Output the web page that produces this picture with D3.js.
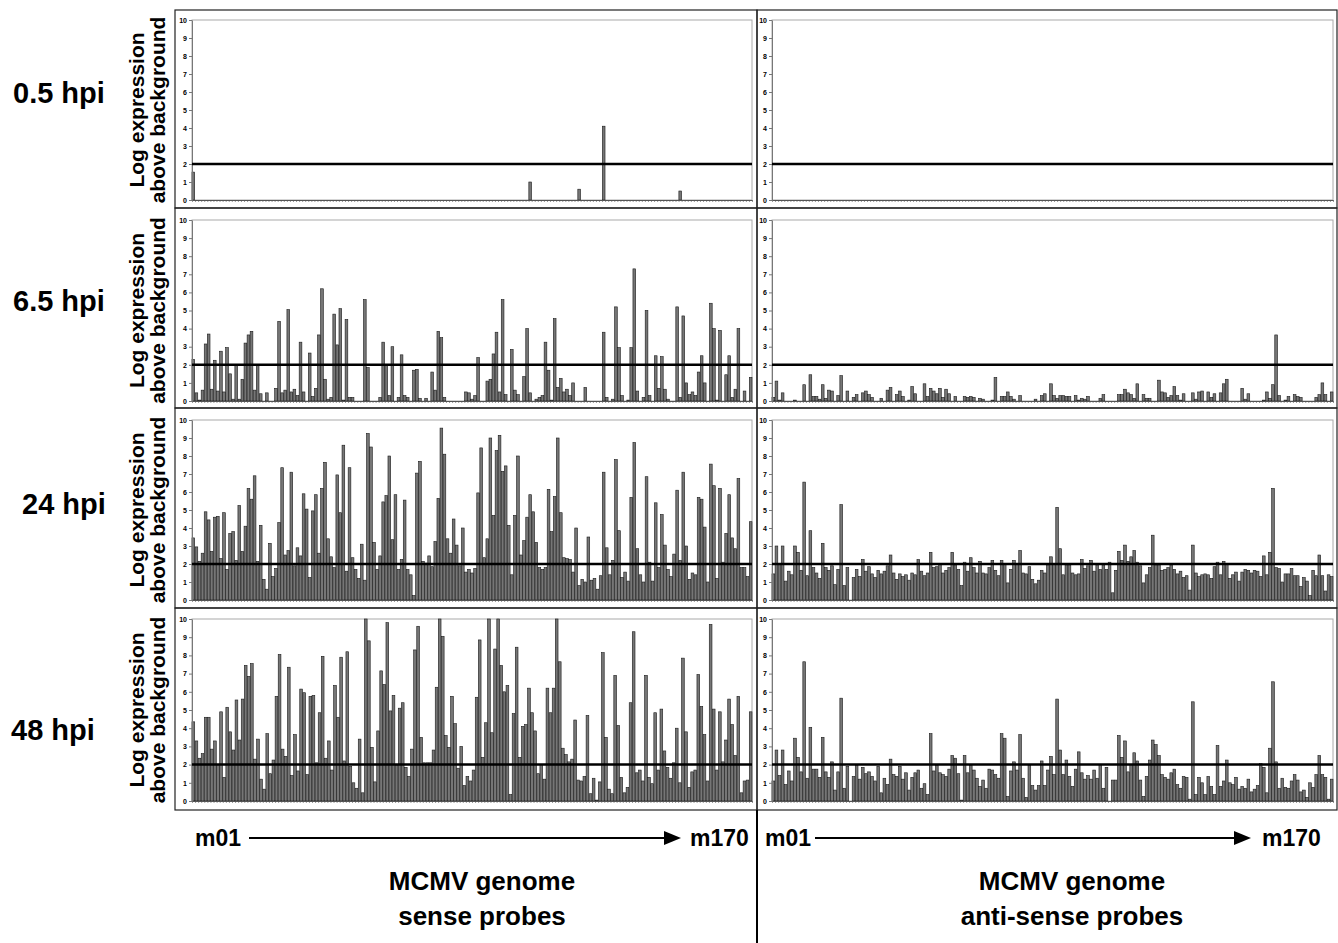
<!DOCTYPE html>
<html>
<head>
<meta charset="utf-8">
<script src="https://cdn.jsdelivr.net/npm/d3@7"></script>
<style>
  body { margin: 0; background: #fff; }
  svg { display: block; font-family: "Liberation Sans", Arial, sans-serif; }
</style>
</head>
<body>
<svg id="chart" width="1338" height="943"></svg>
<script>
// ---- data (log expression above background, one value per probe) ----
const rowLabels = ["0.5 hpi", "6.5 hpi", "24 hpi", "48 hpi"];
const yTicks = [0, 1, 2, 3, 4, 5, 6, 7, 8, 9, 10];
const threshold = 2;

// 0.5 hpi: only a few probes above zero, [probe index, value]
const sense05Peaks = [[0, 1.55], [110, 1.0], [126, 0.6], [134, 4.1], [159, 0.5]];
const anti05Peaks = [];

const sense65 = [
  2.3, 0.45, 0.05, 0.6, 3.15, 3.7, 0.65, 2.25, 0.55, 2.75,
  0.5, 2.95, 1.5, 0.1, 1.95, 0.1, 1.2, 3.2, 3.65, 3.85,
  0.6, 1.95, 0.4, 0, 0.45, 0, 0, 0.7, 4.4, 0.45,
  0.6, 5.05, 0.5, 0.65, 0.3, 3.25, 0.5, 0, 2.65, 0.25,
  0.7, 3.65, 6.2, 1.2, 0.1, 0.2, 4.8, 3.1, 5.1, 0.05,
  4.5, 0.2, 0.2, 0, 0, 0, 5.6, 1.85, 0, 0,
  0, 0.2, 3.25, 1.95, 0.3, 3.0, 0, 0.2, 2.55, 0.3,
  0.2, 0, 1.7, 1.75, 0.15, 0, 0.15, 0, 1.6, 0.6,
  3.85, 3.5, 0.2, 0, 0, 0, 0, 0, 0, 0.5, 0.45,
  0.1, 0.3, 2.4, 0, 0, 1.1, 1.2, 2.6, 3.8, 0.5,
  5.6, 0.35, 0, 2.85, 0.6, 0.35, 0, 1.35, 4.0, 0.45,
  0, 0.1, 0.2, 0.3, 3.25, 1.7, 0.05, 4.55, 0.75, 1.25,
  0.5, 0.65, 0.3, 1.0, 0, 0, 0, 0.75, 0, 0, 0,
  0, 0, 3.8, 0.2, 0, 0.1, 5.2, 2.95, 0.3, 0,
  0.05, 2.95, 7.3, 0.55, 0, 0.2, 5.0, 0.3, 0, 2.5,
  0.7, 2.45, 0.65, 0.1, 0, 0, 5.2, 0.2, 4.7, 1.0,
  0.35, 0.5, 0.3, 1.6, 2.5, 1.0, 0, 5.4, 4.0, 0.05,
  3.9, 0, 1.45, 2.5, 0.2, 0.65, 4.0, 0, 0.55, 0,
  1.3
];

const anti65 = [
  0.2, 1.1, 0.05, 0.45, 0, 0, 0, 0.05, 0, 0,
  0.9, 0, 1.45, 0.25, 0.25, 0.1, 0.9, 0.15, 0.6, 0.55,
  0, 0.3, 1.4, 0, 0.55, 0, 0.2, 0.35, 0, 0.45,
  0.55, 0.35, 0.2, 0, 0, 0.15, 0, 0.6, 0.75, 0, 0.35,
  0.55, 0.25, 0, 0.05, 0.8, 0.4, 0, 0, 0.95, 0.25,
  0.7, 0.55, 0.4, 0.7, 0.2, 0.65, 0.4, 0, 0.25, 0,
  0, 0.25, 0.2, 0.25, 0.2, 0, 0.15, 0.1, 0, 0,
  0.05, 1.3, 0, 0.25, 0.25, 0.5, 0.25, 0.1, 0, 0.3,
  0, 0, 0, 0, 0.1, 0, 0.3, 0.4, 0, 0.95, 0.3,
  0.15, 0.3, 0.3, 0.25, 0.25, 0, 0.3, 0.05, 0.15, 0.1,
  0.25, 0, 0, 0, 0.15, 0.35, 0, 0, 0, 0, 0.35, 0.35,
  0.65, 0.45, 0.35, 0.15, 0.95, 0, 0.35, 0.15, 0.15, 0, 0, 1.15,
  0.5, 0.45, 0.2, 0.3, 0.8, 0.3, 0.05, 0.4, 0, 0,
  0.45, 0.1, 0.5, 0.55, 0, 0.5, 0.2, 0.4, 0, 0.45,
  0.95, 1.2, 0, 0, 0, 0, 0.7, 0.1, 0.4, 0, 0,
  0, 0, 0.05, 0.5, 0.15, 0.9, 3.65, 0.3, 0, 0.05, 0.25,
  0, 0.35, 0.25, 0.2, 0, 0, 0, 0, 0.2, 0.35,
  1.0, 0.35, 0, 0.5
];

const sense24 = [
  3.45, 2.95, 2.15, 2.6, 4.9, 4.45, 2.7, 4.6, 4.65, 2.3,
  4.85, 1.7, 3.7, 3.8, 2.2, 5.25, 2.7, 4.1, 6.2, 5.6,
  6.9, 2.15, 4.15, 1.15, 0.6, 3.15, 1.3, 1.75, 4.3, 7.35,
  2.5, 2.75, 7.1, 1.9, 2.9, 2.45, 5.9, 5.05, 1.25, 4.95,
  5.85, 2.6, 6.2, 7.65, 3.4, 2.4, 1.8, 6.95, 4.85, 8.6,
  1.6, 7.35, 2.35, 1.7, 1.2, 3.1, 1.1, 9.25, 8.5, 3.2,
  1.7, 2.45, 5.45, 5.8, 8.0, 3.35, 5.85, 1.7, 2.25, 5.55,
  1.7, 1.4, 0.25, 7.05, 7.7, 2.15, 2.05, 2.45, 1.85, 3.25,
  5.65, 9.55, 8.1, 3.4, 2.6, 4.5, 3.05, 1.9, 4.0,
  1.55, 1.7, 1.5, 1.75, 5.95, 8.45, 2.35, 3.4, 9.0, 4.7,
  8.3, 9.15, 7.15, 7.45, 4.15, 1.4, 4.7, 8.0, 2.5, 3.3,
  4.6, 5.85, 4.9, 3.2, 1.8, 1.7, 1.8, 6.15, 3.8, 5.75,
  9.0, 4.85, 2.35, 2.3, 2.25, 1.55, 4.0, 0.8, 1.15, 1.0,
  3.5, 1.1, 1.2, 0.6, 1.35, 7.1, 2.9, 1.4, 2.2, 7.8,
  3.85, 1.25, 1.55, 1.05, 5.7, 8.75, 2.85, 1.4, 1.0, 6.85,
  2.1, 1.05, 5.4, 1.8, 4.75, 3.05, 1.7, 1.3, 2.55, 6.1,
  2.2, 7.1, 3.0, 1.15, 1.5, 1.4, 5.7, 5.6, 4.05, 1.0,
  7.55, 6.35, 1.2, 6.2, 2.1, 3.7, 5.85, 3.45, 2.85, 6.75,
  1.8, 1.8, 1.3, 4.35
];

const anti24 = [
  1.45, 3.0, 2.0, 3.0, 1.05, 1.6, 1.4, 3.0, 2.65, 1.65,
  6.55, 1.35, 3.85, 1.8, 1.5, 1.2, 3.15, 1.8, 1.65, 1.9,
  0.85, 1.7, 5.3, 0.8, 1.8, 0, 1.25, 1.7, 1.3, 2.25,
  1.6, 1.85, 1.45, 1.25, 1.65, 1.45, 1.6, 1.9, 2.5, 1.5, 1.15,
  1.45, 1.3, 1.4, 1.1, 1.5, 1.4, 2.25, 1.6, 1.35, 1.5, 2.65, 1.8,
  1.85, 2.0, 1.5, 1.65, 1.8, 2.65, 1.95, 1.7, 0.8, 2.1, 1.6,
  2.35, 1.8, 1.5, 2.15, 1.5, 1.45, 1.8, 2.2, 1.65, 1.35,
  2.2, 2.0, 0.95, 1.7, 2.2, 2.0, 2.75, 1.5, 1.45, 1.85,
  1.15, 0.9, 1.1, 1.65, 1.5, 1.95, 2.4,
  2.0, 5.15, 2.85, 1.4, 1.95, 1.95, 1.5, 1.4, 1.45, 2.25,
  1.75, 1.9, 2.2, 1.6, 1.95, 1.7, 1.95, 1.7, 2.1, 0.4, 1.65,
  2.7, 2.2, 3.05, 2.15, 2.4, 2.75, 2.1, 1.9, 0.95, 1.4, 1.8,
  3.6, 1.95, 1.95, 1.65, 1.7, 1.8, 1.95, 1.7, 1.45, 1.6, 1.25,
  1.35, 0.55, 3.05, 1.5, 1.3, 1.4, 1.45, 1.4, 1.2, 1.85,
  2.1, 1.4, 2.15, 2.0, 1.2, 1.4, 1.55, 1.05, 1.55, 1.7, 1.65,
  1.5, 1.65, 1.6, 1.3, 2.45, 1.4, 2.65, 6.2, 1.8, 1.75,
  1.0, 1.45, 1.45, 1.75, 1.35, 1.35, 0.75, 1.25, 1.05, 0.25,
  1.65, 1.35, 2.5, 1.35, 0.5, 1.4, 1.3
];

const sense48 = [
  4.35, 3.3, 2.35, 2.6, 4.6, 4.6, 2.85, 3.3, 2.0, 4.9,
  1.3, 5.15, 3.8, 2.8, 5.55, 3.35, 5.6, 7.45, 6.85, 7.55,
  2.3, 3.4, 1.2, 0.65, 3.7, 1.5, 2.25, 5.75, 8.05, 2.85,
  2.45, 7.35, 1.4, 3.65, 1.65, 6.15, 5.95, 1.45, 5.75, 5.8,
  2.1, 4.85, 7.95, 2.35, 3.3, 1.7, 6.35, 4.6, 7.9, 2.2,
  8.2, 1.9, 1.0, 0.7, 3.4, 0.45, 10, 8.8, 2.95, 1.05,
  3.85, 7.15, 6.4, 9.8, 4.95, 5.8, 1.95, 5.1, 5.4, 1.85,
  1.35, 2.85, 8.3, 9.6, 3.5, 2.1, 2.1, 2.1, 2.8, 6.25,
  10, 9.05, 3.6, 2.95, 5.75, 4.25, 1.8, 3.0, 0.85, 1.35,
  1.1, 1.7, 5.7, 8.85, 2.4, 4.3, 10, 3.75, 8.35, 10,
  7.45, 6.0, 6.35, 0.35, 4.8, 8.45, 2.4, 4.1, 4.2, 6.2,
  4.85, 3.85, 1.5, 2.0, 1.2, 6.2, 4.85, 6.2, 10, 7.65,
  2.9, 2.55, 2.15, 2.3, 4.45, 1.15, 1.1, 1.35, 4.7, 0.4,
  1.25, 0.05, 1.05, 8.15, 3.5, 0.65, 0.4, 6.9, 4.15, 1.3,
  0.45, 0.75, 5.4, 9.3, 1.55, 1.7, 1.1, 6.9, 1.3, 0.95,
  4.85, 1.7, 5.05, 2.75, 1.85, 1.25, 2.1, 4.0, 1.0, 7.85,
  3.8, 0.75, 1.6, 1.7, 6.95, 5.2, 3.65, 1.1, 9.7, 5.05,
  1.7, 4.9, 2.15, 3.35, 5.6, 4.2, 2.5, 5.75, 0.45, 1.1,
  1.15, 4.9
];

const anti48 = [
  1.1, 2.8, 1.4, 2.8, 0.9, 1.65, 1.1, 3.45, 2.4, 1.6,
  7.65, 1.25, 4.05, 1.75, 1.75, 1.3, 3.5, 1.6, 1.3, 2.15,
  0.6, 1.6, 5.65, 0.7, 1.9, 0, 1.35, 1.95, 1.2, 1.85,
  1.5, 1.6, 1.35, 1.1, 1.9, 0.45, 1.25, 0.9, 2.3, 1.45, 1.35,
  1.9, 1.2, 1.55, 0.6, 1.3, 1.55, 1.7, 0.7, 0.95, 0.35, 3.7, 1.65,
  1.95, 1.55, 1.45, 1.35, 1.75, 2.5, 2.35, 1.5, 0.05, 2.5, 1.55,
  1.95, 1.7, 1.25, 0.8, 1.15, 0.7, 1.75, 1.7, 1.45, 1.25,
  3.7, 3.45, 0.25, 1.65, 2.15, 1.7, 3.65, 1.25, 0.2, 1.95,
  0.85, 0.6, 0.85, 2.2, 0.85, 1.7, 2.45,
  1.45, 5.6, 2.8, 1.45, 2.25, 1.35, 0.8, 1.75, 2.7, 1.55,
  1.2, 1.4, 1.2, 1.7, 1.25, 2.0, 0.7, 1.85, 0, 1.15, 1.15,
  3.6, 2.4, 3.3, 1.6, 2.0, 2.65, 2.2, 1.15, 0.25, 1.35, 2.25,
  3.35, 3.1, 2.5, 1.45, 1.3, 1.2, 1.55, 1.75, 0.9, 0.7, 1.35,
  1.3, 0.1, 5.45, 0.35, 1.3, 1.0, 0.35, 1.35, 0.8, 0.35,
  3.05, 0.8, 1.1, 2.25, 1.0, 0.9, 1.3, 0.65, 0.8, 0.7, 1.2,
  0.5, 0.65, 0.85, 2.05, 1.85, 0.45, 2.9, 6.55, 2.15, 0.7,
  1.25, 0.75, 0.7, 1.1, 1.45, 1.15, 0.5, 0.6, 0.2, 1.0,
  0.75, 1.45, 2.5, 1.45, 1.3, 0.1, 1.2
];

// 0.5 hpi series: zero everywhere except the listed probes
const probeCount = sense65.length;
const fromPeaks = (peaks) => {
  const s = new Array(probeCount).fill(0);
  peaks.forEach(([i, v]) => (s[i] = v));
  return s;
};

const senseSeries = [fromPeaks(sense05Peaks), sense65, sense24, sense48];
const antiSeries = [fromPeaks(anti05Peaks), anti65, anti24, anti48];

// ---- layout ----
const chart = d3.select("#chart");

const columns = [
  { left: 175, right: 757, x0: 192, x1: 752, series: senseSeries },
  { left: 757, right: 1337, x0: 772, x1: 1333, series: antiSeries },
];
const rows = [
  { top: 10, bottom: 208, y10: 20, y0: 200, labelX: 13, labelY: 103 },
  { top: 208, bottom: 408, y10: 220, y0: 401, labelX: 13, labelY: 311 },
  { top: 408, bottom: 608, y10: 420, y0: 600, labelX: 22, labelY: 514 },
  { top: 608, bottom: 810, y10: 619, y0: 801, labelX: 11, labelY: 740 },
];

rows.forEach((row, r) => {
  const yScale = d3.scaleLinear().domain([0, 10]).range([row.y0, row.y10]);

  // row label
  chart
    .append("text")
    .attr("x", row.labelX)
    .attr("y", row.labelY)
    .style("font-size", "29px")
    .style("font-weight", "bold")
    .text(rowLabels[r]);

  // y axis title (two lines)
  const midY = (row.y0 + row.y10) / 2;
  ["Log expression", "above background"].forEach((line, k) => {
    chart
      .append("text")
      .attr("transform", `translate(${144 + k * 21}, ${midY}) rotate(-90)`)
      .attr("text-anchor", "middle")
      .style("font-size", "21px")
      .style("font-weight", "bold")
      .text(line);
  });

  columns.forEach((col) => {
    const data = col.series[r];
    const xScale = d3
      .scaleBand()
      .domain(d3.range(data.length))
      .range([col.x0, col.x1])
      .paddingInner(0.12);
    const xEdge = d3.scaleLinear().domain([0, data.length]).range([col.x0, col.x1]);

    // outer panel box
    chart
      .append("rect")
      .attr("x", col.left)
      .attr("y", row.top)
      .attr("width", col.right - col.left)
      .attr("height", row.bottom - row.top)
      .attr("fill", "none")
      .attr("stroke", "#222")
      .attr("stroke-width", 1.2);

    // plot area frame
    chart
      .append("rect")
      .attr("x", col.x0)
      .attr("y", row.y10)
      .attr("width", col.x1 - col.x0)
      .attr("height", row.y0 - row.y10)
      .attr("fill", "none")
      .attr("stroke", "#aaa")
      .attr("stroke-width", 1);

    // bars
    chart
      .append("g")
      .selectAll("rect")
      .data(data.map((v, i) => ({ i, v })).filter((d) => d.v > 0))
      .enter()
      .append("rect")
      .attr("x", (d) => xScale(d.i))
      .attr("y", (d) => yScale(d.v))
      .attr("width", xScale.bandwidth())
      .attr("height", (d) => row.y0 - yScale(d.v))
      .attr("fill", "#767676")
      .attr("stroke", "#1a1a1a")
      .attr("stroke-width", 0.6);

    // category axis with small ticks between probes
    const xAxis = d3
      .axisBottom(xEdge)
      .tickValues(d3.range(data.length + 1))
      .tickSize(2)
      .tickSizeOuter(0)
      .tickFormat("");
    const gx = chart.append("g").attr("transform", `translate(0, ${row.y0})`).call(xAxis);
    gx.select(".domain").attr("stroke", "#555");
    gx.selectAll(".tick line").attr("stroke", "#555").attr("stroke-width", 0.6);

    // value axis
    const yAxis = d3.axisLeft(yScale).tickValues(yTicks).tickSize(3).tickSizeOuter(0);
    const gy = chart.append("g").attr("transform", `translate(${col.x0}, 0)`).call(yAxis);
    gy.select(".domain").attr("stroke", "#777");
    gy.selectAll(".tick line").attr("stroke", "#777");
    gy.selectAll(".tick text")
      .attr("x", -5)
      .attr("fill", "#000")
      .style("font-size", "7px")
      .style("font-weight", "bold");

    // threshold line
    chart
      .append("line")
      .attr("x1", col.x0)
      .attr("x2", col.x1)
      .attr("y1", yScale(threshold))
      .attr("y2", yScale(threshold))
      .attr("stroke", "#000")
      .attr("stroke-width", 2.5);
  });
});

// ---- genome direction arrows and captions ----
const genomeLabels = [
  { start: "m01", end: "m170", sx: 195, lineFrom: 249, lineTo: 666, tip: 681, ex: 690, cx: 482, sub: "sense probes" },
  { start: "m01", end: "m170", sx: 765, lineFrom: 815, lineTo: 1236, tip: 1251, ex: 1262, cx: 1072, sub: "anti-sense probes" },
];

genomeLabels.forEach((g) => {
  const arrowY = 838;
  chart
    .append("text")
    .attr("x", g.sx)
    .attr("y", arrowY + 8)
    .style("font-size", "23px")
    .style("font-weight", "bold")
    .text(g.start);
  chart
    .append("line")
    .attr("x1", g.lineFrom)
    .attr("x2", g.lineTo)
    .attr("y1", arrowY)
    .attr("y2", arrowY)
    .attr("stroke", "#000")
    .attr("stroke-width", 2);
  chart
    .append("path")
    .attr("d", `M${g.lineTo - 2},${arrowY - 7}L${g.tip},${arrowY}L${g.lineTo - 2},${arrowY + 7}Z`)
    .attr("fill", "#000");
  chart
    .append("text")
    .attr("x", g.ex)
    .attr("y", arrowY + 8)
    .style("font-size", "23px")
    .style("font-weight", "bold")
    .text(g.end);
  chart
    .append("text")
    .attr("x", g.cx)
    .attr("y", 890)
    .attr("text-anchor", "middle")
    .style("font-size", "26px")
    .style("font-weight", "bold")
    .text("MCMV genome");
  chart
    .append("text")
    .attr("x", g.cx)
    .attr("y", 925)
    .attr("text-anchor", "middle")
    .style("font-size", "26px")
    .style("font-weight", "bold")
    .text(g.sub);
});

// divider under the two columns
chart
  .append("line")
  .attr("x1", 757)
  .attr("x2", 757)
  .attr("y1", 810)
  .attr("y2", 943)
  .attr("stroke", "#000")
  .attr("stroke-width", 2);
</script>
</body>
</html>
